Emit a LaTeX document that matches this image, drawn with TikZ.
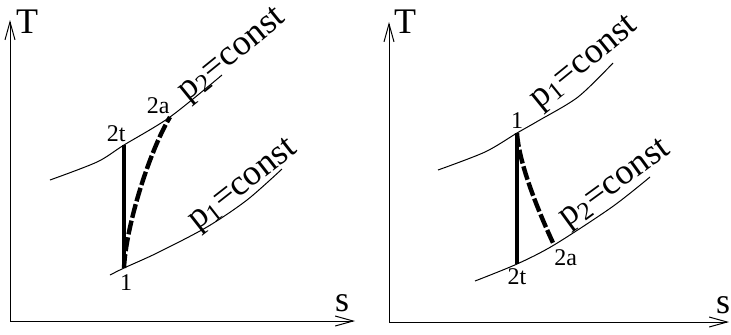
\documentclass[tikz,border=0pt]{standalone}
\usepackage{fontspec}
\setmainfont{Liberation Serif}
\usetikzlibrary{arrows.meta,positioning}

\begin{document}
\begin{tikzpicture}[x=0.5pt, y=-0.5pt,
    asse/.style={-{Straight Barb[length=9pt,width=5pt]}, line width=0.5pt},
    isobara/.style={line width=0.5pt},
    ideale/.style={line width=2pt},
    reale/.style={line width=2.2pt, dash pattern=on 7pt off 1.5pt},
    etich/.style={inner sep=0pt, font=\fontsize{12}{14}\selectfont},
    grande/.style={inner sep=0pt, font=\fontsize{18}{22}\selectfont}]
    \useasboundingbox (0,0) rectangle (731,334);

    % Diagramma di sinistra (compressione)
    \coordinate (Os) at (10,321);
    \draw[asse] (Os) -- (10,20);
    \draw[asse] (Os) -- (355,321);
    \node[grande] (Ts) at (27,22) {T};
    \node[grande] (ss) at (342,303) {s};

    % Punti dello stato
    \coordinate (A1) at (124,268);
    \coordinate (A2t) at (124,145);
    \coordinate (A2a) at (170,117);

    % Isobare
    \draw[isobara] plot[smooth] coordinates {(50,180) (97,162) (A2t) (A2a) (222,75)};
    \draw[isobara] plot[smooth] coordinates {(110,275) (A1) (157,253) (207,227) (247,200) (282,169)};
    \node[grande, rotate=39] (ps2) at (233,56) {p\textsubscript{2}=const};
    \node[grande, rotate=38] (ps1) at (244,186) {p\textsubscript{1}=const};

    % Trasformazione ideale e reale
    \draw[ideale] (A1) -- (A2t);
    \draw[reale] (A1) .. controls (126,225) and (150,150) .. (A2a);
    \node[etich, below=3pt of A1, xshift=1pt] (lA1) {1};
    \node[etich, above left=1.5pt and -1pt of A2t] (lA2t) {2t};
    \node[etich, above left=1.5pt and 0pt of A2a] (lA2a) {2a};

    % Diagramma di destra (espansione)
    \coordinate (Od) at (389,322);
    \draw[asse] (Od) -- (389,22);
    \draw[asse] (Od) -- (729,322);
    \node[grande] (Td) at (405,22) {T};
    \node[grande] (sd) at (723,305) {s};

    % Punti dello stato
    \coordinate (B1) at (517,133);
    \coordinate (B2t) at (517,264);
    \coordinate (B2a) at (554,245);

    % Isobare
    \draw[isobara] plot[smooth] coordinates {(438,170) (485,152) (B1) (538,121) (578,97) (613,63)};
    \draw[isobara] plot[smooth] coordinates {(475,281) (B2t) (B2a) (612,207) (650,177)};
    \node[grande, rotate=39] (pd1) at (585,64) {p\textsubscript{1}=const};
    \node[grande, rotate=36] (pd2) at (616,185) {p\textsubscript{2}=const};

    % Trasformazione ideale e reale
    \draw[ideale] (B1) -- (B2t);
    \draw[reale] (B1) .. controls (519,165) and (540,215) .. (B2a);
    \node[etich, above=2pt of B1] (lB1) {1};
    \node[etich, below=2pt of B2t] (lB2t) {2t};
    \node[etich, below right=2pt and 0pt of B2a] (lB2a) {2a};
\end{tikzpicture}
\end{document}
